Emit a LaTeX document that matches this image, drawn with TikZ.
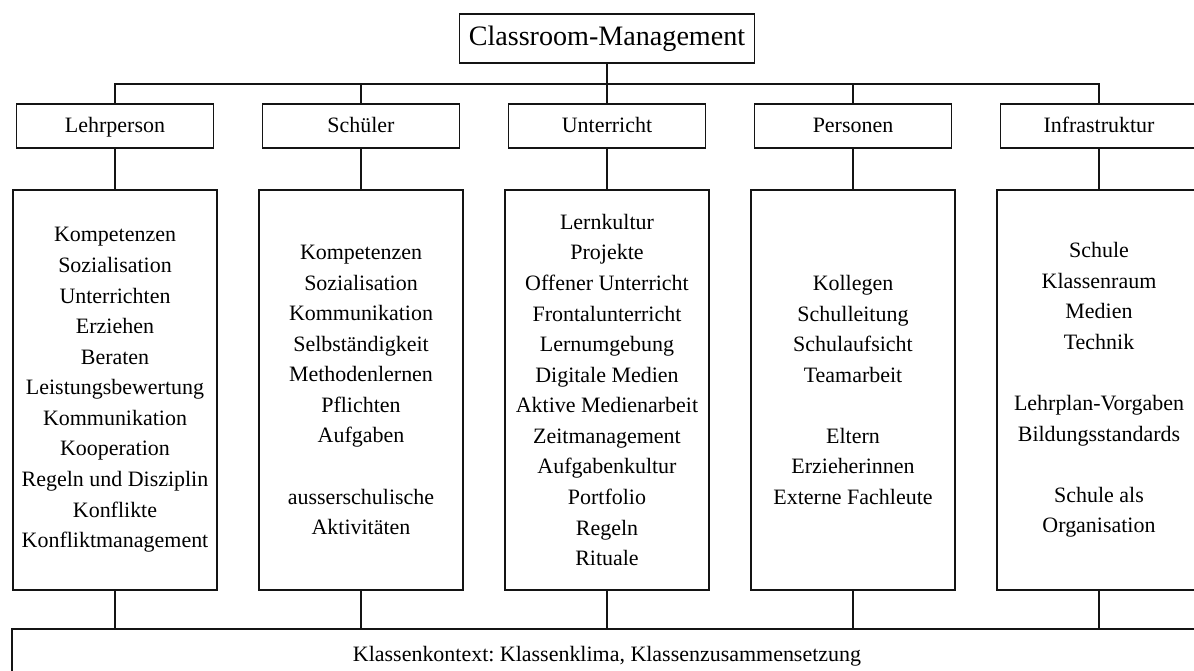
\documentclass[tikz,border=0pt]{standalone}
\usepackage{fontspec}
\setmainfont{Liberation Serif}
\usepackage{xcolor}
\definecolor{boxline}{RGB}{20, 20, 20}
\frenchspacing

\tikzset{
  cmbox/.style={draw=boxline, line width=1pt, align=center, inner sep=0pt,
    font=\fontsize{12.5}{17.4}\selectfont},
  headbox/.style={cmbox, minimum width=3.94cm, minimum height=0.88cm,
    text height=1.8ex, text depth=0.25ex},
  listbox/.style={cmbox, minimum width=4.08cm, minimum height=8cm},
  link/.style={draw=boxline, line width=1pt}
}

\begin{document}
\begin{tikzpicture}[x=0.02cm, y=-0.02cm]
                \useasboundingbox (0,0) rectangle (1194,671);
                \clip (0,0) rectangle (1194,671);

                % Top node
                \node[cmbox, minimum width=5.9cm, minimum height=0.98cm,
                      font=\fontsize{16}{19}\selectfont] (cm) at (607,38.5) {Classroom-Management};

                % Five areas
                \node[headbox] (lehrperson) at (115,126) {Lehrperson};
                \node[headbox] (schueler) at (361,126) {Schüler};
                \node[headbox] (unterricht) at (607,126) {Unterricht};
                \node[headbox] (personen) at (853,126) {Personen};
                \node[headbox] (infra) at (1099,126) {Infrastruktur};

                % Lists below the areas
                \node[listbox] (lehrpersonList) at (115,390) {Kompetenzen\\ Sozialisation\\ Unterrichten\\ Erziehen\\ Beraten\\ Leistungsbewertung\\ Kommunikation\\ Kooperation\\ Regeln und Disziplin\\ Konflikte\\ Konfliktmanagement};
                \node[listbox] (schuelerList) at (361,390) {Kompetenzen\\ Sozialisation\\ Kommunikation\\ Selbständigkeit\\ Methodenlernen\\ Pflichten\\ Aufgaben\\[\baselineskip] ausserschulische\\ Aktivitäten};
                \node[listbox] (unterrichtList) at (607,390) {Lernkultur\\ Projekte\\ Offener Unterricht\\ Frontalunterricht\\ Lernumgebung\\ Digitale Medien\\ Aktive Medienarbeit\\ Zeitmanagement\\ Aufgabenkultur\\ Portfolio\\ Regeln\\ Rituale};
                \node[listbox] (personenList) at (853,390) {Kollegen\\ Schulleitung\\ Schulaufsicht\\ Teamarbeit\\[\baselineskip] Eltern\\ Erzieherinnen\\ Externe Fachleute};
                \node[listbox] (infraList) at (1099,390) {Schule\\ Klassenraum\\ Medien\\ Technik\\[\baselineskip] Lehrplan-Vorgaben\\ Bildungsstandards\\[\baselineskip] Schule als\\ Organisation};

                % Class context at the bottom
                \node[cmbox, minimum width=23.8cm, minimum height=1.08cm] (kontext) at (607,656) {Klassenkontext: Klassenklima, Klassenzusammensetzung};

                % Bus from the top node
                \coordinate (busL) at (115,84);
                \coordinate (busR) at (1099,84);
                \draw[link] (lehrperson.north) -- (busL) -- (busR) -- (infra.north);
                \draw[link] (cm.south) -- (cm.south |- busL);
                \draw[link] (schueler.north) -- (schueler.north |- busL);
                \draw[link] (unterricht.north) -- (unterricht.north |- busL);
                \draw[link] (personen.north) -- (personen.north |- busL);

                % Areas to their lists
                \draw[link] (lehrperson.south) -- (lehrpersonList.north);
                \draw[link] (schueler.south) -- (schuelerList.north);
                \draw[link] (unterricht.south) -- (unterrichtList.north);
                \draw[link] (personen.south) -- (personenList.north);
                \draw[link] (infra.south) -- (infraList.north);

                % Lists down to the context
                \draw[link] (lehrpersonList.south) -- (lehrpersonList.south |- kontext.north);
                \draw[link] (schuelerList.south) -- (schuelerList.south |- kontext.north);
                \draw[link] (unterrichtList.south) -- (unterrichtList.south |- kontext.north);
                \draw[link] (personenList.south) -- (personenList.south |- kontext.north);
                \draw[link] (infraList.south) -- (infraList.south |- kontext.north);
            \end{tikzpicture}
\end{document}
